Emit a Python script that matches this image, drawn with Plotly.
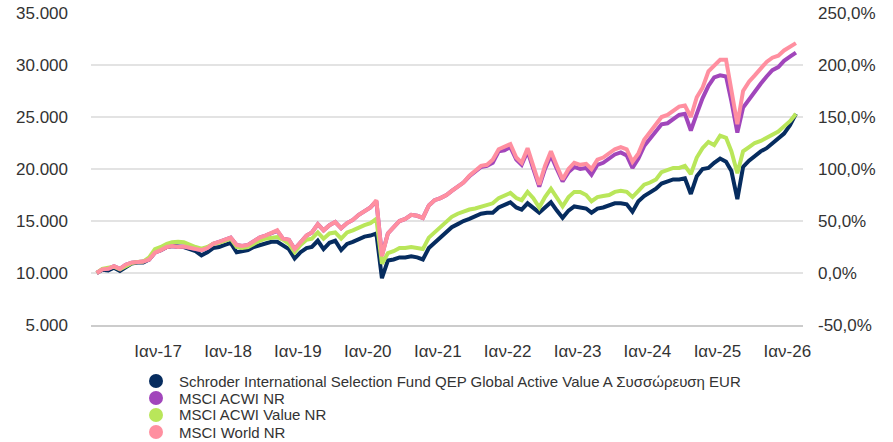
import plotly.graph_objects as go

# ---------------- data ----------------
series_names = [
    "Schroder International Selection Fund QEP Global Active Value A Συσσώρευση EUR",
    "MSCI ACWI NR",
    "MSCI ACWI Value NR",
    "MSCI World NR",
]
series_colors = ["#062c5f", "#a146bb", "#b9e65a", "#ff8fa0"]

# monthly observation dates, Feb 2016 .. Feb 2026
dates = [f"{y}-{m:02d}-15" for y in range(2016, 2027) for m in range(1, 13)
         if (y, m) >= (2016, 2) and (y, m) <= (2026, 2)]

fund = [
    10000, 10300, 10250, 10500, 10200, 10600, 10900, 11000, 11000, 11300, 12000,
    12200, 12500, 12600, 12500, 12500, 12300, 12100, 11700, 12000, 12400, 12500, 12700,
    12900, 12000, 12100, 12200, 12500, 12700, 12900, 13000, 13000, 12700, 12300, 11400,
    12000, 12400, 12500, 13100, 12300, 12900, 13100, 12200, 12800, 13000, 13300, 13500,
    13600, 13800, 9500, 11200, 11300, 11500, 11500, 11600, 11500, 11300, 12400, 12900,
    13300, 13900, 14400, 14700, 15000, 15200, 15400, 15700, 15800, 15800, 16300, 16500,
    16800, 16300, 16100, 16700, 16200, 15800, 16300, 16800, 16000, 15300, 16000, 16400,
    16300, 16200, 15800, 16200, 16300, 16500, 16700, 16700, 16600, 15900, 16900, 17400,
    17700, 18100, 18600, 18800, 19000, 19000, 19100, 17600, 19300, 20000, 20100, 20600,
    21000, 20700, 19800, 17100, 20200, 20800, 21300, 21700, 22000, 22500, 22900, 23400,
    24200, 25300,
]
acwi = [
    10000, 10350, 10400, 10650, 10400, 10800, 11000, 11100, 11100, 11300, 11950,
    12200, 12500, 12600, 12500, 12550, 12450, 12300, 12200, 12400, 12800, 13000, 13150,
    13400, 12700, 12600, 12700, 13100, 13400, 13600, 13800, 14050, 13300, 13200, 12300,
    13000, 13600, 13900, 14700, 14100, 14600, 14900, 14300, 14800, 15100, 15600, 15900,
    16300, 16900, 11700, 13800, 14400, 15000, 15200, 15600, 15500, 15300, 16500, 17000,
    17200, 17500, 17900, 18300, 18700, 19300, 19700, 20200, 20300, 20600, 21700, 21800,
    22100, 20900, 20400, 21700, 20000, 18300, 20000, 21300, 20000, 18800, 19700, 20200,
    20000, 20100, 19450, 20400, 20600, 21000, 21400, 21600, 21300, 20100, 21000, 22200,
    22900, 23500, 24300, 24400, 24800, 25200, 25300, 23700, 25300, 26800, 28000, 28800,
    29000, 28900, 26500, 23500, 25900, 26700, 27500, 28200, 28900, 29500, 29800, 30400,
    30800, 31200,
]
acwi_value = [
    10000, 10400, 10500, 10600, 10350, 10700, 10950, 11050, 11100, 11500, 12300,
    12500, 12800, 12950, 13000, 12950, 12700, 12500, 12350, 12500, 12800, 12900, 13100,
    13300, 12500, 12400, 12500, 12800, 13100, 13300, 13400, 13450, 13200, 12800, 12000,
    12700, 13200, 13300, 13900, 13300, 13800, 13900, 13300, 13900, 14100, 14400, 14600,
    14800, 15200, 10900, 11900, 12100, 12400, 12400, 12500, 12400, 12300, 13400, 13900,
    14300, 14900, 15400, 15700, 15900, 16100, 16200, 16400, 16500, 16700, 17200, 17400,
    17700, 17200, 17000, 17800, 17200, 16300, 17300, 18100, 17300, 16400, 17300, 17800,
    17800, 17500, 16900, 17300, 17400, 17500, 17800, 17900, 17800, 17300, 17900, 18500,
    18700, 19000, 19700, 19900, 20100, 20100, 20300, 19500, 21100, 22000, 22600, 22300,
    23200, 23000, 21700, 19600, 21700, 22100, 22500, 22700, 23000, 23300, 23600, 24100,
    24600, 25300,
]
world = [
    10000, 10350, 10400, 10650, 10400, 10800, 11000, 11100, 11100, 11300, 11950,
    12200, 12500, 12600, 12500, 12550, 12450, 12300, 12200, 12400, 12800, 13000, 13150,
    13400, 12700, 12600, 12700, 13100, 13400, 13600, 13800, 14100, 13300, 13200, 12300,
    13000, 13600, 13900, 14700, 14100, 14600, 14900, 14300, 14800, 15100, 15600, 15900,
    16300, 17000, 11600, 13800, 14400, 15000, 15200, 15600, 15500, 15300, 16500, 17000,
    17200, 17500, 17900, 18300, 18700, 19350, 19800, 20300, 20400, 20900, 21900, 22100,
    22400, 21100, 20600, 22000, 20300, 18500, 20300, 21700, 20300, 19000, 20000, 20600,
    20400, 20500, 20000, 20900, 21100, 21500, 21900, 22100, 21900, 20700, 21500, 22800,
    23500, 24200, 25000, 25200, 25600, 26000, 26100, 25000, 26900, 27800, 29400, 30000,
    30500, 30500, 27500, 24300, 27500, 28400, 29000, 29600, 30300, 30700, 30900, 31400,
    31700, 32100,
]

tick_years = [2017, 2018, 2019, 2020, 2021, 2022, 2023, 2024, 2025, 2026]
tick_text = [f"Ιαν-{y % 100:02d}" for y in tick_years]
left_ticks = [5000, 10000, 15000, 20000, 25000, 30000, 35000]
right_ticks = [-50, 0, 50, 100, 150, 200, 250]
base_value = 10000

# ---------------- figure ----------------
FONT = "Liberation Sans, Arial, sans-serif"
W, H = 893, 442
ML, MR, MT, MB = 91, 90, 13, 117
PW, PH = W - ML - MR, H - MT - MB

fig = go.Figure()
all_series = [fund, acwi, acwi_value, world]
for name, col, vals in zip(series_names, series_colors, all_series):
    fig.add_trace(go.Scatter(
        x=dates, y=vals, mode="lines", name=name,
        line=dict(color=col, width=4), showlegend=False,
    ))

# invisible trace to carry the right (percentage) axis
fig.add_trace(go.Scatter(
    x=dates, y=[(v / base_value - 1) * 100 for v in fund], yaxis="y2",
    mode="lines", line=dict(width=0, color="rgba(0,0,0,0)"),
    showlegend=False, hoverinfo="skip",
))


def pct_label(v):
    return f"{v:.1f}".replace(".", ",") + "%"


fig.update_layout(
    width=W, height=H,
    margin=dict(l=ML, r=MR, t=MT, b=MB, pad=0, autoexpand=False),
    paper_bgcolor="white", plot_bgcolor="white",
    separators=",.",
    font=dict(family=FONT, color="#333333", size=17),
    showlegend=False,
    xaxis=dict(
        type="date",
        range=["2016-01-16", "2026-03-24"],
        tickvals=[f"{y}-01-01" for y in tick_years],
        ticktext=tick_text,
        showgrid=False, zeroline=False, automargin=False,
        showline=True, linecolor="#cccccc", linewidth=2,
        ticks="", ticklabelstandoff=10,
        tickfont=dict(size=17, color="#333333"),
    ),
    yaxis=dict(
        range=[5000, 35000],
        tickvals=left_ticks, tickformat=",.0f",
        showgrid=True, gridcolor="#e3e3e3", gridwidth=2,
        zeroline=False, ticks="", ticklabelstandoff=22, automargin=False,
        tickfont=dict(size=17, color="#333333"),
    ),
    yaxis2=dict(
        range=[-50, 250], overlaying="y", side="right",
        tickvals=right_ticks, ticktext=[pct_label(v) for v in right_ticks],
        showgrid=False, zeroline=False, ticks="", ticklabelstandoff=14,
        automargin=False,
        tickfont=dict(size=17, color="#333333"),
    ),
)

# custom legend (circle markers + text), laid out in pixels below the plot
legend_cx, legend_tx = 156, 177
legend_rows = [381, 398, 415, 432]
for name, col, py in zip(series_names, series_colors, legend_rows):
    xp = (legend_cx - ML) / PW
    yp = (H - MB - py) / PH
    fig.add_shape(type="circle", xref="paper", yref="paper",
                  xsizemode="pixel", ysizemode="pixel",
                  xanchor=xp, yanchor=yp, x0=-7, x1=7, y0=-7, y1=7,
                  fillcolor=col, line=dict(width=0))
    fig.add_annotation(x=(legend_tx - ML) / PW, y=yp, xref="paper", yref="paper",
                       text=name, showarrow=False, xanchor="left", yanchor="middle",
                       font=dict(family=FONT, size=15, color="#333333"))

fig.write_html("out.html", config={"displayModeBar": False},
               post_script="document.body.style.margin='0';")
